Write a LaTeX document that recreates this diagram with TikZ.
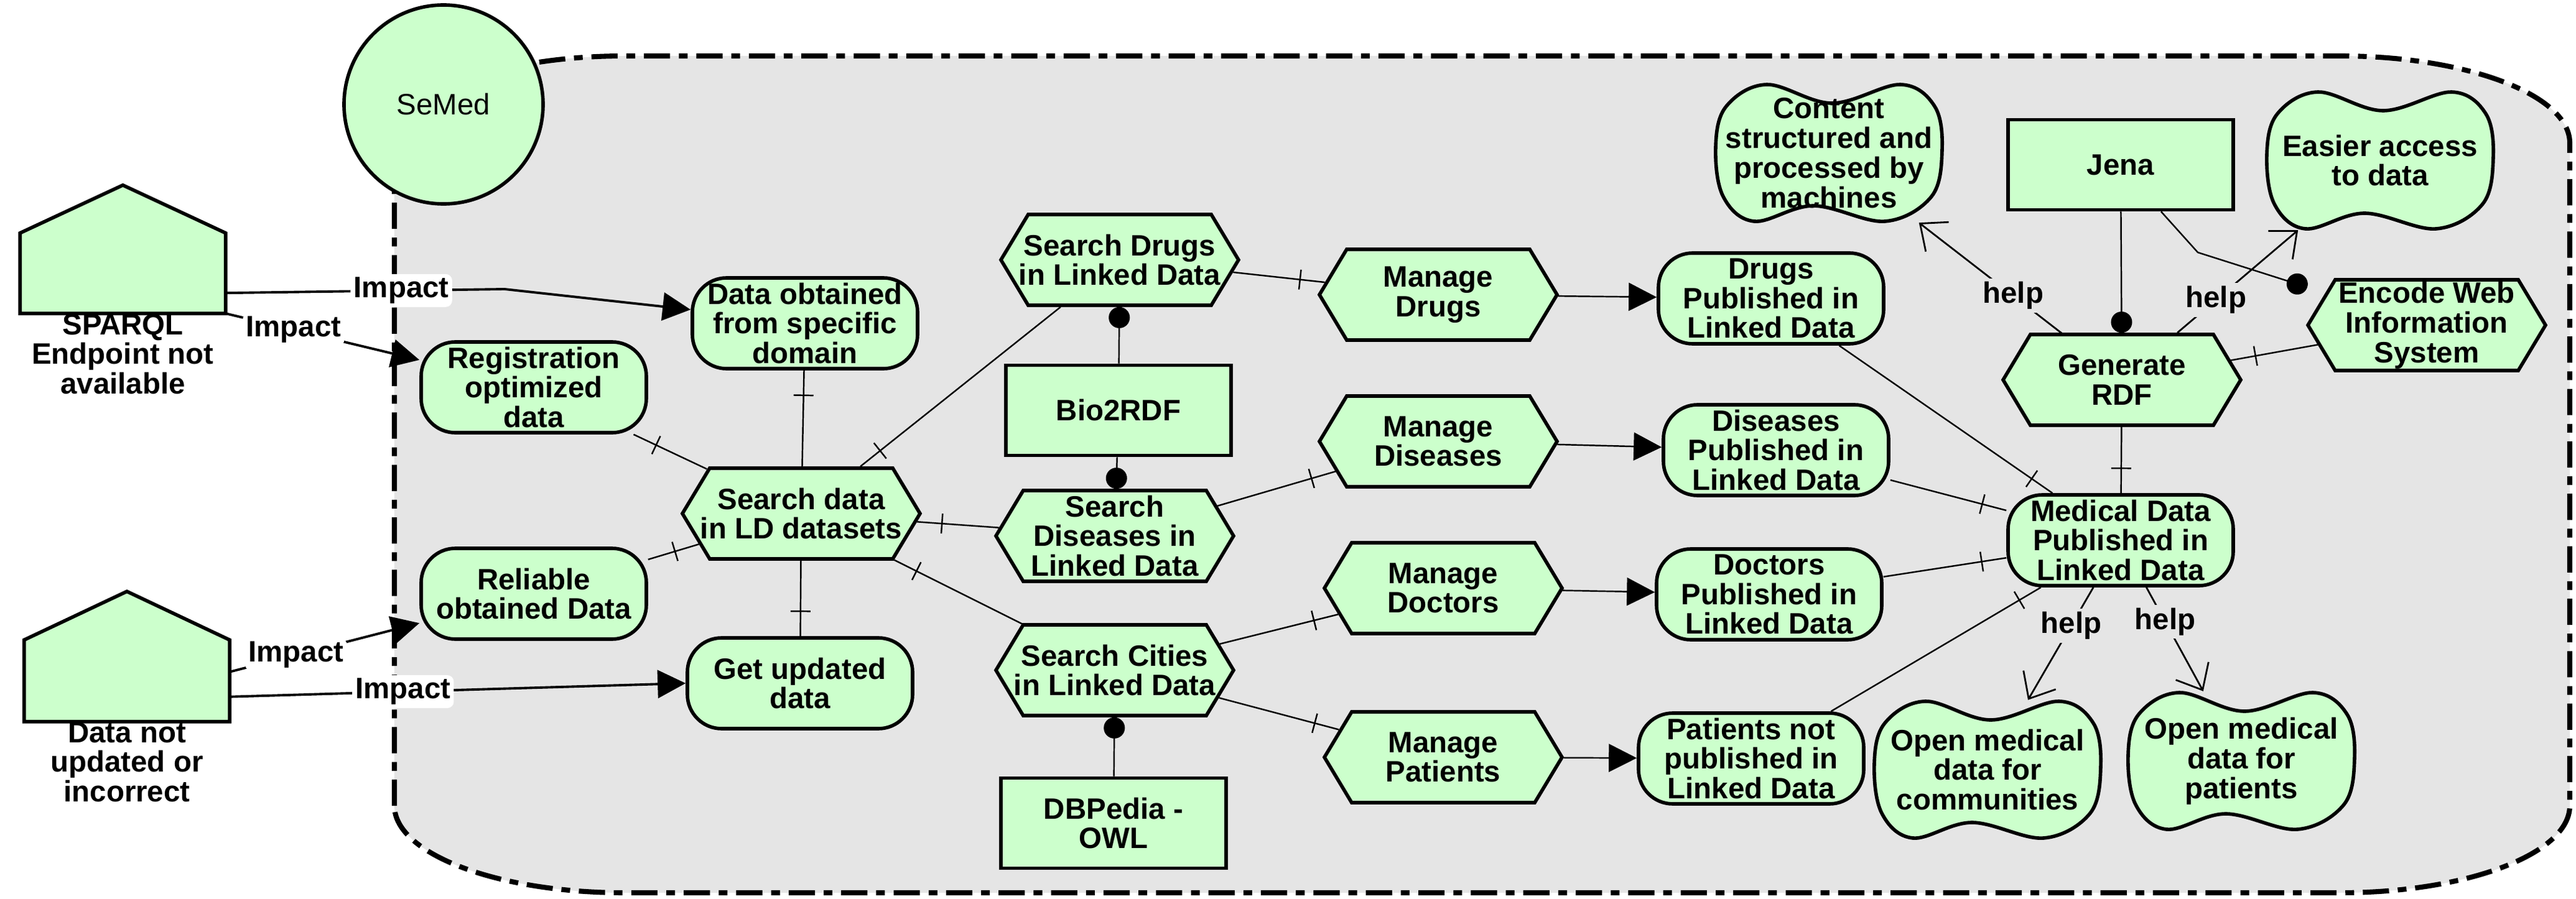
\documentclass[tikz,border=0pt]{standalone}
\usepackage{fontspec}
\setmainfont{Liberation Sans}
\usetikzlibrary{positioning,arrows.meta,shapes.symbols,decorations.markings}

\definecolor{nodegreen}{HTML}{CCFFCC}
\definecolor{bggray}{HTML}{E5E5E5}

% wavy goal shape, drawn first, then its node on top
\newcommand{\goalnode}[3]{%
  \filldraw[goalline,shift={#2}] plot[smooth cycle,tension=0.6] coordinates
    {(-1.82,0.1) (-1.65,0.75) (-1.0,1.1) (0.05,0.8) (1.15,1.1) (1.7,0.75)
     (1.82,0.05) (1.65,-0.7) (0.9,-1.1) (-0.25,-0.85) (-1.2,-1.1) (-1.7,-0.7)};
  \node[goal] (#1) at #2 {#3};}

\begin{document}
\begin{tikzpicture}[
    txt/.style={font=\bfseries\fontsize{13.5}{13.6}\selectfont, align=center},
    base/.style={txt, draw, line width=1.6pt, fill=nodegreen, inner xsep=-3mm, inner ysep=0pt},
    event/.style={base, rectangle, rounded corners=5.5mm, minimum width=3.62cm, minimum height=1.46cm},
    func/.style={base, signal, signal to=west and east, signal pointer angle=118, minimum width=3.82cm, minimum height=1.46cm},
    sys/.style={base, rectangle, minimum width=3.62cm, minimum height=1.45cm},
    goal/.style={txt, inner sep=0pt, minimum width=3.63cm, minimum height=2.23cm},
    goalline/.style={line width=1.6pt, fill=nodegreen},
    house/.style={minimum width=3.29cm, minimum height=1.28cm, inner sep=0pt},
    houseline/.style={line width=1.6pt, fill=nodegreen, line join=miter},
    link/.style={line width=0.7pt},
    barend/.style={link, postaction={decorate}, decoration={markings, mark=at position -4mm with {\draw[link] (0,-1.6mm) -- (0,1.6mm);}}},
    dotend/.style={link, -{Circle[length=3.4mm]}},
    flow/.style={link, -{Triangle[length=4.5mm,width=4.5mm]}},
    impact/.style={line width=1.1pt, -{Triangle[length=4.5mm,width=4.5mm]}},
    help/.style={line width=0.8pt, -{Straight Barb[length=3.5mm,width=6mm]}},
    impactlbl/.style={txt, fill=white, rounded corners=3pt, inner sep=1.5pt},
    helplbl/.style={txt, fill=bggray, inner sep=1.5pt}]
    \useasboundingbox (0,0) rectangle (41.41,14.45);

    % system boundary
    \filldraw[fill=bggray, line width=2.3pt, dash pattern=on 12pt off 4pt on 4pt off 4pt]
        (6.34,1.49) -- (6.34,12.15) arc[start angle=180, end angle=90, x radius=3.7, y radius=1.4]
        -- (37.61,13.55) arc[start angle=90, end angle=0, x radius=3.7, y radius=1.4]
        -- (41.31,1.49) arc[start angle=0, end angle=-90, x radius=3.7, y radius=1.4]
        -- (10.04,0.09) arc[start angle=270, end angle=180, x radius=3.7, y radius=1.4] -- cycle;
    \node[circle, draw, line width=1.6pt, fill=nodegreen, minimum size=3.2cm,
        font=\fontsize{13.5}{14}\selectfont] (semed) at (7.13,12.77) {SeMed};

    % problems
    \node[house] (sparql) at (1.975,10.055) {};
    \filldraw[houseline] (sparql.south west) -- (sparql.north west) -- ([yshift=7.7mm]sparql.north)
        -- (sparql.north east) -- (sparql.south east) -- cycle;
    \node[txt, inner sep=0pt, below=0pt of sparql] (sparqltxt) {SPARQL\\Endpoint not\\available};
    \node[house, minimum height=1.30cm] (notupd) at (2.04,3.50) {};
    \filldraw[houseline] (notupd.south west) -- (notupd.north west) -- ([yshift=7.8mm]notupd.north)
        -- (notupd.north east) -- (notupd.south east) -- cycle;
    \node[txt, inner sep=0pt, below=0pt of notupd] (notupdtxt) {Data not\\updated or\\incorrect};

    % events
    \node[event] (regis) at (8.58,8.22) {Registration\\optimized\\data};
    \node[event] (reliable) at (8.58,4.90) {Reliable\\obtained Data};
    \node[event] (obtained) at (12.94,9.25) {Data obtained\\from specific\\domain};
    \node[event] (getupd) at (12.86,3.46) {Get updated\\data};
    \node[event] (drugspub) at (28.47,9.65) {Drugs\\Published in\\Linked Data};
    \node[event] (dispub) at (28.55,7.21) {Diseases\\Published in\\Linked Data};
    \node[event] (docpub) at (28.44,4.89) {Doctors\\Published in\\Linked Data};
    \node[event] (patpub) at (28.15,2.25) {Patients not\\published in\\Linked Data};
    \node[event] (medpub) at (34.09,5.76) {Medical Data\\Published in\\Linked Data};

    % functions
    \node[func] (search) at (12.88,6.19) {Search data\\in LD datasets};
    \node[func] (sdrugs) at (18.00,10.27) {Search Drugs\\in Linked Data};
    \node[func] (sdis) at (17.92,5.83) {Search\\Diseases in\\Linked Data};
    \node[func] (scities) at (17.92,3.67) {Search Cities\\in Linked Data};
    \node[func] (mdrugs) at (23.12,9.71) {Manage\\Drugs};
    \node[func] (mdis) at (23.12,7.35) {Manage\\Diseases};
    \node[func] (mdoc) at (23.20,4.99) {Manage\\Doctors};
    \node[func] (mpat) at (23.20,2.27) {Manage\\Patients};
    \node[func] (genrdf) at (34.11,8.34) {Generate\\RDF};
    \node[func] (encode) at (39.01,9.22) {Encode Web\\Information\\System};

    % systems
    \node[sys] (bio) at (17.98,7.85) {Bio2RDF};
    \node[sys] (dbp) at (17.90,1.21) {DBPedia -\\OWL};
    \node[sys] (jena) at (34.09,11.80) {Jena};

    % goals
    \goalnode{content}{(29.40,11.99)}{Content\\structured and\\processed by\\machines}
    \goalnode{easier}{(38.26,11.87)}{Easier access\\to data}
    \goalnode{opencom}{(31.95,2.07)}{Open medical\\data for\\communities}
    \goalnode{openpat}{(36.03,2.21)}{Open medical\\data for\\patients}

    % impacts
    \coordinate (bend1) at (8.11,9.80);
    \draw[impact] ([yshift=3.3mm]sparql.south east) -- node[impactlbl,pos=0.63]{Impact} (bend1) -- ([yshift=2.2mm]obtained.west);
    \draw[impact] (sparql.south east) -- node[impactlbl,pos=0.35]{Impact} (regis);
    \draw[impact] ([yshift=8mm]notupd.south east) -- node[impactlbl,pos=0.35]{Impact} (reliable);
    \draw[impact] ([yshift=4mm]notupd.south east) -- node[impactlbl,pos=0.38]{Impact} (getupd.west);

    % links
    \draw[barend] (search) -- (regis);
    \draw[barend] (search) -- (obtained);
    \draw[barend] (reliable) -- (search);
    \draw[barend] (search) -- (getupd);
    \draw[barend] (sdrugs) -- (search);
    \draw[barend] (sdis) -- (search);
    \draw[barend] (scities) -- (search);
    \draw[barend] (sdrugs) -- (mdrugs);
    \draw[barend] (sdis) -- (mdis);
    \draw[barend] (scities) -- (mdoc);
    \draw[barend] (scities) -- (mpat);
    \draw[barend] (drugspub) -- (medpub);
    \draw[barend] (dispub) -- (medpub);
    \draw[barend] (docpub) -- (medpub);
    \draw[barend] (patpub) -- (medpub);
    \draw[barend] (genrdf) -- (medpub);
    \draw[barend] (encode) -- (genrdf);

    \draw[flow] (mdrugs) -- (drugspub);
    \draw[flow] (mdis) -- (dispub);
    \draw[flow] (mdoc) -- (docpub);
    \draw[flow] (mpat) -- (patpub);

    % supporting systems
    \draw[dotend] (bio) -- (sdrugs);
    \draw[dotend] (bio) -- (sdis);
    \draw[dotend] (dbp) -- (scities);
    \draw[dotend] (jena) -- (genrdf);
    \coordinate (bend2) at (35.33,10.39);
    \draw[dotend, shorten >=3mm] ([xshift=6.5mm]jena.south) -- (bend2) -- (encode);

    % benefits
    \draw[help] (genrdf) -- node[helplbl,pos=0.34]{help} (content);
    \draw[help] (genrdf) -- node[helplbl,pos=0.32]{help} (easier);
    \draw[help] (medpub) -- node[helplbl,pos=0.34]{help} (opencom);
    \draw[help] (medpub) -- node[helplbl,pos=0.33]{help} (openpat);
\end{tikzpicture}
\end{document}
